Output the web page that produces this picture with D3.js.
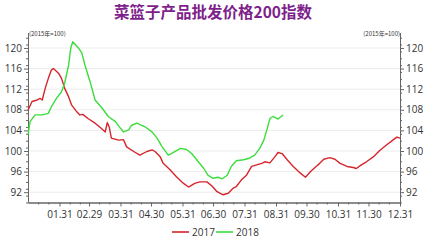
<!DOCTYPE html>
<html lang="zh">
	<head>
		<meta charset="utf-8">
		<title>菜篮子产品批发价格200指数</title>
		<script src="https://d3js.org/d3.v7.min.js"></script>
		<style>
			body { margin: 0; background: #fff; }
			text { font-family: "Noto Sans CJK SC", "Noto Sans", sans-serif; }
		</style>
	</head>
	<body>
		<div id="chart"></div>

		<script>
			// Data: day of year (0 = Jan 1) and index value
			let days2017 = [0, 4, 9, 12, 14, 17, 20, 23, 25, 30, 33, 36, 40, 43, 48, 51, 54, 59, 66, 72, 76, 78, 80, 82, 89, 94, 97, 104, 110, 117, 122, 125, 130, 133, 140, 146, 153, 158, 164, 169, 176, 181, 186, 192, 197, 202, 205, 210, 215, 220, 225, 230, 233, 238, 243, 246, 250, 255, 261, 268, 273, 278, 284, 287, 291, 297, 302, 307, 314, 320, 323, 328, 333, 340, 346, 353, 359, 363, 366];
			let values2017 = [107.9, 109.6, 109.9, 110.2, 109.9, 112.2, 114.1, 115.7, 116.0, 115.1, 114.1, 112.2, 110.5, 108.9, 107.6, 107.0, 107.1, 106.3, 105.4, 104.4, 103.7, 105.5, 104.6, 102.5, 102.1, 102.2, 100.8, 99.9, 99.2, 99.9, 100.2, 99.9, 98.9, 97.6, 96.3, 95.0, 93.7, 93.0, 93.7, 94.0, 94.0, 93.2, 92.1, 91.5, 91.8, 92.8, 93.1, 94.4, 95.3, 97.0, 97.3, 97.6, 97.9, 97.7, 98.9, 99.7, 99.5, 98.3, 97.0, 95.7, 94.9, 96.0, 97.1, 97.6, 98.4, 98.7, 98.4, 97.6, 97.0, 96.8, 96.6, 97.3, 97.9, 98.9, 100.1, 101.2, 102.1, 102.7, 102.5];

			let days2018 = [0, 2, 7, 14, 20, 23, 28, 33, 36, 40, 42, 44, 50, 53, 56, 61, 66, 73, 79, 86, 91, 94, 99, 102, 107, 115, 122, 127, 132, 138, 141, 150, 156, 161, 166, 173, 177, 182, 187, 191, 196, 200, 205, 212, 218, 223, 228, 232, 235, 238, 241, 246, 251];
			let values2018 = [103.1, 105.7, 107.0, 107.0, 107.3, 108.6, 110.2, 111.5, 113.1, 116.7, 119.9, 121.2, 119.9, 119.0, 116.7, 113.5, 109.9, 108.3, 106.7, 105.7, 104.4, 103.7, 104.1, 105.0, 105.4, 104.7, 103.7, 102.5, 100.8, 99.2, 99.5, 100.5, 100.3, 99.5, 98.3, 96.6, 95.3, 94.7, 94.9, 94.6, 95.3, 97.0, 98.1, 98.3, 98.6, 99.2, 100.5, 102.1, 104.1, 106.3, 106.7, 106.2, 107.0];

			// x tick labels sit at month ends (leap-year calendar, as the axis shows 02.29)
			let monthEndDays = [31, 60, 91, 121, 152, 182, 213, 244, 274, 305, 335, 366];
			let monthLabels = ["01.31", "02.29", "03.31", "04.30", "05.31", "06.30", "07.31", "08.31", "09.30", "10.31", "11.30", "12.31"];
			let yTicks = [92, 96, 100, 104, 108, 112, 116, 120];

			let seriesNames = ["2017", "2018"];
			let seriesColors = ["#d6252b", "#3ddc3d"];

			let outer_width = 433;
			let outer_height = 241;
			let margin = {top: 32.5, right: 33, bottom: 38.5, left: 28};
			let inner_width = outer_width - margin.left - margin.right;
			let inner_height = outer_height - margin.top - margin.bottom;

			let svg = d3.select("#chart")
						.append("svg")
						.attr("width", outer_width)
						.attr("height", outer_height);

			// Title
			svg.append("text")
				.attr("x", 213)
				.attr("y", 18)
				.attr("text-anchor", "middle")
				.style("font-size", "15.5px")
				.style("font-weight", "bold")
				.style("fill", "#7e1f8c")
				.text("菜篮子产品批发价格200指数");

			let g = svg.append("g")
						.attr("transform", "translate(" + margin.left + "," + margin.top + ")");

			let xScale = d3.scaleLinear()
							.domain([0, 366])
							.range([0, inner_width]);

			let yScale = d3.scaleLinear()
							.domain([90, 123])
							.range([inner_height, 0]);

			// Faint horizontal grid at the major y ticks
			g.selectAll(".grid")
				.data(yTicks)
				.enter()
				.append("line")
				.attr("class", "grid")
				.attr("x1", 0)
				.attr("x2", inner_width)
				.attr("y1", function(d) { return yScale(d); })
				.attr("y2", function(d) { return yScale(d); })
				.style("stroke", "#ececec")
				.style("stroke-width", 1);

			// Minor y ticks: three steps between each major tick
			let yMinor = d3.range(0, 25).map(function(i) { return 90 + i * 4 / 3; })
							.filter(function(v) { return v <= 123; });

			// Minor x ticks: 10th and 20th day of each month
			let monthStarts = [0].concat(monthEndDays.slice(0, 11));
			let xMinor = [];
			monthStarts.forEach(function(s) { xMinor.push(s + 10, s + 20); });

			let axisColor = "#666";

			function styleAxis(sel) {
				sel.select(".domain").style("stroke", axisColor);
				sel.selectAll(".tick line").style("stroke", axisColor);
				sel.selectAll(".tick text")
					.style("fill", "#333")
					.style("font-size", "10px")
					.style("font-family", "'Open Sans', 'Noto Sans', sans-serif");
			}

			// Left axis
			let yAxisLeft = d3.axisLeft(yScale).tickValues(yTicks).tickSize(4).tickSizeOuter(0).tickPadding(2);
			let yMinorLeft = d3.axisLeft(yScale).tickValues(yMinor).tickSize(2).tickFormat("").tickSizeOuter(0);
			g.append("g").call(yMinorLeft).call(styleAxis);
			g.append("g").call(yAxisLeft).call(styleAxis);

			// Right axis
			let yAxisRight = d3.axisRight(yScale).tickValues(yTicks).tickSize(4).tickSizeOuter(0).tickPadding(2);
			let yMinorRight = d3.axisRight(yScale).tickValues(yMinor).tickSize(2).tickFormat("").tickSizeOuter(0);
			g.append("g").attr("transform", "translate(" + inner_width + ",0)").call(yMinorRight).call(styleAxis);
			g.append("g").attr("transform", "translate(" + inner_width + ",0)").call(yAxisRight).call(styleAxis);

			// Bottom axis
			let xAxis = d3.axisBottom(xScale)
							.tickValues(monthEndDays)
							.tickFormat(function(d, i) { return monthLabels[i]; })
							.tickSize(4)
							.tickSizeOuter(0)
							.tickPadding(4);
			let xMinorAxis = d3.axisBottom(xScale).tickValues(xMinor).tickSize(2).tickFormat("").tickSizeOuter(0);
			g.append("g").attr("transform", "translate(0," + inner_height + ")").call(xMinorAxis).call(styleAxis);
			g.append("g").attr("transform", "translate(0," + inner_height + ")").call(xAxis).call(styleAxis);

			// Unit labels above both axes
			svg.append("text")
				.attr("x", margin.left + 1)
				.attr("y", 36)
				.style("font-size", "6px")
				.style("fill", "#333")
				.text("(2015年=100)");
			svg.append("text")
				.attr("x", margin.left + inner_width)
				.attr("y", 36)
				.attr("text-anchor", "end")
				.style("font-size", "6px")
				.style("fill", "#333")
				.text("(2015年=100)");

			// Lines
			let line = d3.line()
						.x(function(d) { return xScale(d.day); })
						.y(function(d) { return yScale(d.value); });

			let series = [
				days2017.map(function(d, i) { return {day: d, value: values2017[i]}; }),
				days2018.map(function(d, i) { return {day: d, value: values2018[i]}; })
			];

			g.selectAll(".series")
				.data(series)
				.enter()
				.append("path")
				.attr("class", "series")
				.attr("d", line)
				.style("fill", "none")
				.style("stroke", function(d, i) { return seriesColors[i]; })
				.style("stroke-width", 1.4)
				.style("stroke-linejoin", "round");

			// Legend
			let legendX = [172, 216];
			let legend = svg.selectAll(".legend")
							.data(seriesNames)
							.enter()
							.append("g")
							.attr("class", "legend")
							.attr("transform", function(d, i) { return "translate(" + legendX[i] + ",232)"; });

			legend.append("line")
				.attr("x1", 0)
				.attr("x2", 17)
				.style("stroke", function(d, i) { return seriesColors[i]; })
				.style("stroke-width", 1.6);

			legend.append("text")
				.attr("x", 20)
				.attr("y", 3.5)
				.style("font-size", "10px")
				.style("fill", "#333")
				.style("font-family", "'Open Sans', 'Noto Sans', sans-serif")
				.text(function(d) { return d; });
		</script>
	</body>
</html>
